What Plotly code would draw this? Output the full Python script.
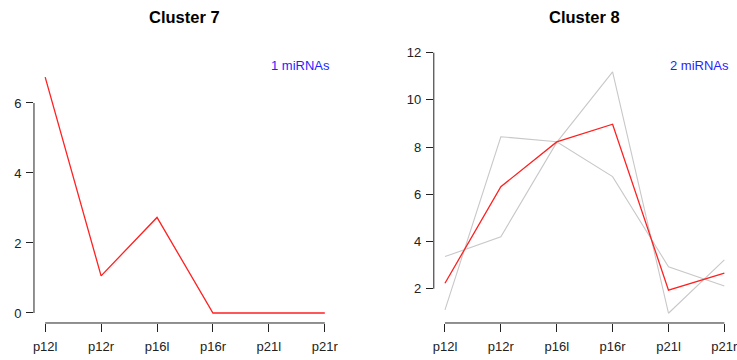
import plotly.graph_objects as go

# Samples on the x axis
samples = ["p12l", "p12r", "p16l", "p16r", "p21l", "p21r"]

# Cluster 7: a single miRNA profile
c7_mean = [6.74, 1.06, 2.73, 0.0, 0.0, 0.0]

# Cluster 8: two member profiles and their mean
c8_member_a = [1.10, 8.44, 8.23, 6.75, 2.93, 2.11]
c8_member_b = [3.36, 4.20, 8.20, 11.19, 0.96, 3.22]
c8_mean = [2.23, 6.32, 8.22, 8.97, 1.94, 2.66]

c7_ticks = [0, 2, 4, 6]
c8_ticks = [2, 4, 6, 8, 10, 12]

FONT = "Liberation Sans, Arial, Helvetica, sans-serif"
RED = "#FF2020"
GREY = "#C8C8C8"
BLUE = "#1F1FFF"
INK = "#222222"

fig = go.Figure()

for member in (c8_member_a, c8_member_b):
    fig.add_trace(go.Scatter(x=samples, y=member, mode="lines",
                             line=dict(color=GREY, width=1.1),
                             xaxis="x2", yaxis="y2", hoverinfo="skip"))
fig.add_trace(go.Scatter(x=samples, y=c8_mean, mode="lines",
                         line=dict(color=RED, width=1.3),
                         xaxis="x2", yaxis="y2"))
fig.add_trace(go.Scatter(x=samples, y=c7_mean, mode="lines",
                         line=dict(color=RED, width=1.3),
                         xaxis="x", yaxis="y"))

ydom = [0.1028, 0.8556]

def xaxis(domain, anchor):
    return dict(domain=domain, anchor=anchor, type="category",
                categoryorder="array", categoryarray=samples,
                range=[-0.2, 5.2], showgrid=False, zeroline=False,
                showline=False, automargin=False,
                ticks="outside", ticklen=8, tickwidth=1,
                tickcolor=INK, ticklabelstandoff=3,
                tickfont=dict(family=FONT, size=13, color=INK))

def yaxis(domain, anchor, rng, tickvals):
    return dict(domain=domain, anchor=anchor, range=rng,
                tickvals=tickvals, showgrid=False, zeroline=False,
                showline=False, automargin=False,
                ticks="outside", ticklen=7, tickwidth=1,
                tickcolor=INK, ticklabelstandoff=2,
                tickfont=dict(family=FONT, size=13, color=INK))

fig.update_layout(
    width=737, height=360,
    margin=dict(l=0, r=0, t=0, b=0),
    paper_bgcolor="white", plot_bgcolor="white",
    showlegend=False,
    xaxis=xaxis([0.0461, 0.4559], "y"),
    yaxis=yaxis(ydom, "x", [-0.286, 7.457], c7_ticks),
    xaxis2=xaxis([0.5886, 0.998], "y2"),
    yaxis2=yaxis(ydom, "x2", [0.547, 12.03], c8_ticks),
)

# Axis lines spanning only the tick range
shapes = []
for xr, yr, ticks in (("x", "y", c7_ticks), ("x2", "y2", c8_ticks)):
    shapes.append(dict(type="line", xref=f"{xr} domain", yref=yr,
                       x0=0, x1=0, y0=ticks[0], y1=ticks[-1],
                       line=dict(color=INK, width=1)))
    shapes.append(dict(type="line", xref=xr, yref=f"{yr} domain",
                       x0=samples[0], x1=samples[-1], y0=0, y1=0,
                       line=dict(color=INK, width=1)))
fig.update_layout(shapes=shapes)

annotations = []
for xr, title, count in (("x", "Cluster 7", 1), ("x2", "Cluster 8", 2)):
    annotations.append(dict(text=f"<b>{title}</b>", xref=f"{xr} domain",
                            yref="paper", x=0.5, y=1 - 17 / 360,
                            showarrow=False, xanchor="center", yanchor="middle",
                            font=dict(family=FONT, size=16.5, color="black")))
annotations.append(dict(text="1 miRNAs", xref="paper", yref="paper",
                        x=300.8 / 737, y=1 - 65 / 360, showarrow=False,
                        xanchor="center", yanchor="middle",
                        font=dict(family=FONT, size=13, color=BLUE)))
annotations.append(dict(text="2 miRNAs", xref="paper", yref="paper",
                        x=699.7 / 737, y=1 - 65.5 / 360, showarrow=False,
                        xanchor="center", yanchor="middle",
                        font=dict(family=FONT, size=13, color=BLUE)))
fig.update_layout(annotations=annotations)

fig.write_html("out.html")
